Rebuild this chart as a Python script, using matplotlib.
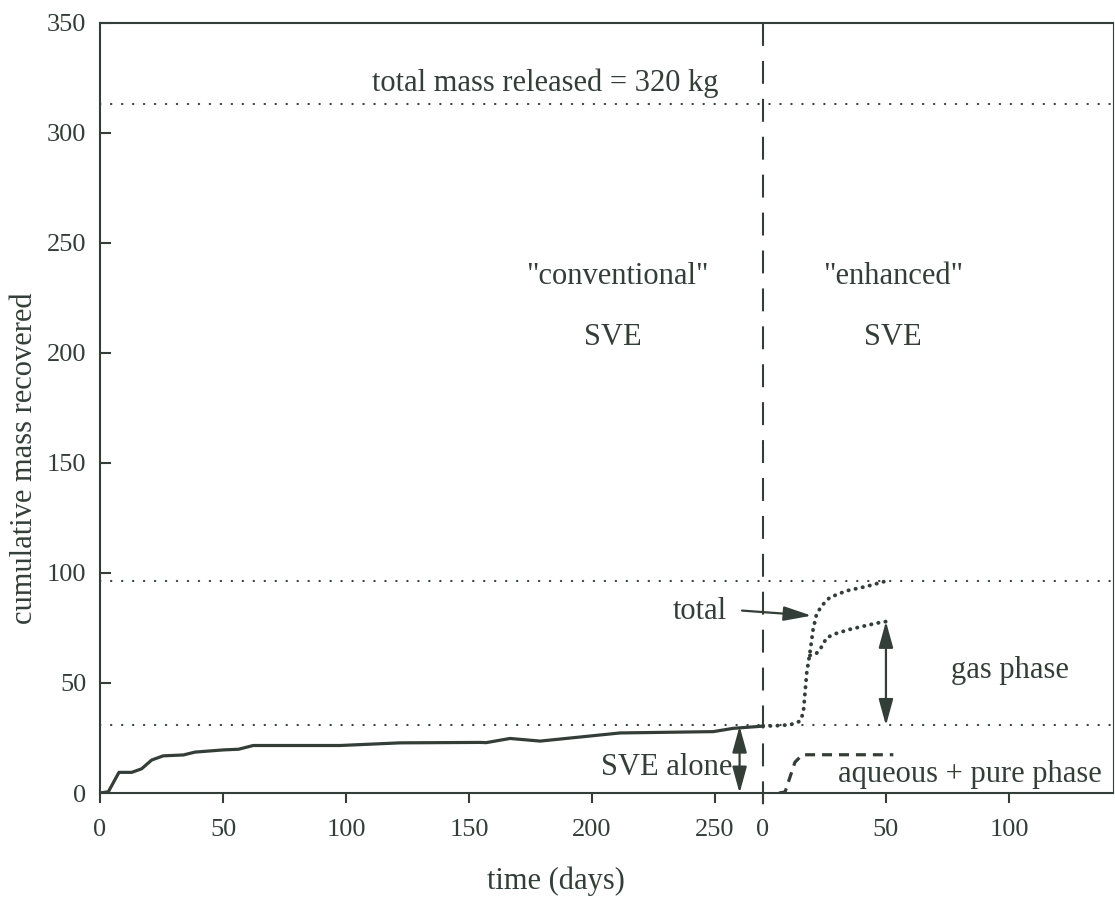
import matplotlib
matplotlib.use("Agg")
import matplotlib.pyplot as plt

plt.rcParams['font.family'] = ['Liberation Serif', 'DejaVu Serif']
plt.rcParams['lines.scale_dashes'] = False

INK = '#343e39'

# conventional SVE phase: time (days) and cumulative mass recovered (kg)
conv_days = [0, 3.4, 7.7, 12.9, 16.9, 21, 25.7, 33.9, 38.6, 50.2, 56.3, 62.3,
             97.6, 122, 154.5, 157, 166.7, 178.9, 211.4, 249.3, 257.4, 269.5]
conv_mass = [0, 0.6, 9.4, 9.4, 11, 15, 16.9, 17.3, 18.6, 19.6, 19.9, 21.6,
             21.6, 22.8, 23.0, 22.9, 24.8, 23.6, 27.3, 27.9, 29.4, 30.4]

# enhanced SVE phase, days counted from the switch-over
total_days = [0, 4, 11, 15, 16.4, 17.1, 17.8, 19.1, 20.4, 21.8, 23.9, 27.2,
              34, 42.2, 50]
total_mass = [30.5, 30.5, 31, 32.6, 36.4, 45.5, 54.7, 63.8, 74.4, 81.3, 85.1,
              88.9, 91.9, 93.9, 96.3]

gas_days = [19.1, 21.8, 23.9, 25.9, 30, 35.4, 46.2, 50.5]
gas_mass = [62.5, 63.5, 66.5, 70.6, 72.6, 74.4, 77.2, 78.0]

aq_days = [6.5, 9, 13, 16, 53]
aq_mass = [0, 0.5, 14, 17.4, 17.4]

# horizontal reference levels (kg)
released_level = 313
enhanced_start_level = 30.7
enhanced_end_level = 96.5

# tick labels
conv_ticks = [0, 50, 100, 150, 200, 250]
enh_ticks = [0, 50, 100]
y_ticks = [0, 50, 100, 150, 200, 250, 300, 350]

SWITCH = 269.5   # position of the switch-over on the shared time axis
XMAX = 411.8

fig = plt.figure(figsize=(11.15, 9.02), dpi=100)
ax = fig.add_axes([0.0897, 0.1208, 0.9085, 0.854])
ax.set_xlim(0, XMAX)
ax.set_ylim(0, 350)

for sp in ax.spines.values():
    sp.set_color(INK)
    sp.set_linewidth(1.5)
ax.spines['right'].set_linewidth(0.8)

# reference levels
for lvl in (released_level, enhanced_start_level, enhanced_end_level):
    ax.plot([0, XMAX], [lvl, lvl], color=INK, lw=1.5,
            dashes=(0.3, 7.6), dash_capstyle='round', solid_capstyle='round')

# divider between conventional and enhanced SVE
ax.plot([SWITCH, SWITCH], [350, -10], color=INK, lw=1.5, dashes=(16.5, 10.8),
        clip_on=False, zorder=3)

# conventional SVE curve
ax.plot(conv_days, conv_mass, color=INK, lw=2.3, solid_joinstyle='round')

# enhanced SVE curves
enh = lambda d: [SWITCH + v for v in d]
ax.plot(enh(total_days), total_mass, color=INK, lw=2.8,
        dashes=(0.2, 5.0), dash_capstyle='round')
ax.plot(enh(gas_days), gas_mass, color=INK, lw=2.8,
        dashes=(0.2, 5.0), dash_capstyle='round')
ax.plot(enh(aq_days), aq_mass, color=INK, lw=2.3, dashes=(7.2, 5.0))

# annotations
txt = dict(color=INK, fontsize=22)
ax.text(180.9, 318.8, 'total mass released = 320 kg', ha='center', va='baseline', **txt)
ax.text(210.2, 231.5, '"conventional"', ha='center', va='baseline', **txt)
ax.text(208.5, 203.5, 'SVE', ha='center', va='baseline', **txt)
ax.text(322.4, 231.5, '"enhanced"', ha='center', va='baseline', **txt)
ax.text(322.4, 203.5, 'SVE', ha='center', va='baseline', **txt)
ax.text(254.9, 79.0, 'total', ha='right', va='baseline', **txt)
ax.text(370.0, 52.2, 'gas phase', ha='center', va='baseline', **txt)
ax.text(230.3, 8.2, 'SVE alone', ha='center', va='baseline', **txt)
ax.text(353.5, 4.8, 'aqueous + pure phase', ha='center', va='baseline', **txt)

dbl = dict(arrowstyle='<|-|>,head_length=0.8,head_width=0.22', mutation_scale=20,
           lw=1.6, color=INK, shrinkA=0, shrinkB=0)
ax.annotate('', xy=(260, conv_mass[-1]), xytext=(260, 0), arrowprops=dbl)
ax.annotate('', xy=(SWITCH + 50, gas_mass[-1]), xytext=(SWITCH + 50, enhanced_start_level),
            arrowprops=dbl)
ax.annotate('', xy=(SWITCH + 19.8, 80.6), xytext=(261, 82.9),
            arrowprops=dict(arrowstyle='-|>,head_length=0.85,head_width=0.22',
                            mutation_scale=20, lw=1.6, color=INK,
                            shrinkA=0, shrinkB=0))

# axes ticks and labels
xt = conv_ticks + [SWITCH + t for t in enh_ticks]
xl = [str(t) for t in conv_ticks] + [str(t) for t in enh_ticks]
ax.set_xticks(xt)
ax.set_xticklabels(xl)
ax.set_yticks(y_ticks)
ax.tick_params(axis='x', direction='out', length=7, width=1.5, pad=12,
               labelsize=19, colors=INK)
ax.tick_params(axis='y', direction='in', length=8, width=1.5, pad=10,
               labelsize=19, colors=INK)

ax.set_xlabel('time (days)', fontsize=22, color=INK, va='center')
ax.xaxis.set_label_coords(0.450, -0.114)
ax.set_ylabel('cumulative mass recovered', fontsize=22, color=INK, va='center')
ax.yaxis.set_label_coords(-0.0745, 0.435)

fig.savefig('out.png', dpi=100, facecolor='white')
